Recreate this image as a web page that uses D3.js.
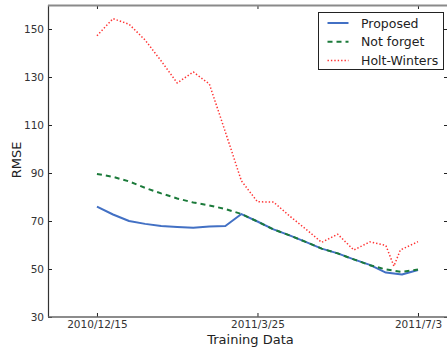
<!DOCTYPE html>
<html>
<head>
<meta charset="utf-8">
<script src="https://cdn.jsdelivr.net/npm/d3@7"></script>
<style>
  body { margin: 0; background: #fff; }
  svg { display: block; }
  svg text { font-family: "DejaVu Sans", sans-serif; }
</style>
</head>
<body>
<svg id="chart" width="447" height="349"></svg>
<script>
// data, day offsets from 2010/12/15
const startDate = '2010/12/15';
const days = [0, 10, 20, 30, 40, 50, 60, 70, 80, 90, 100, 110, 120, 130, 140, 150, 160, 170, 180, 190, 200];
const proposed = [76.0, 72.7, 70.0, 68.8, 67.9, 67.5, 67.2, 67.7, 67.9, 72.9, 69.8, 66.5, 64.0, 61.3, 58.5, 56.5, 54.0, 51.7, 48.5, 47.7, 49.6];
const notForget = [89.6, 88.4, 86.5, 83.8, 81.5, 79.4, 77.7, 76.5, 75.0, 72.9, 69.8, 66.5, 64.0, 61.3, 58.5, 56.5, 54.0, 51.6, 49.8, 48.8, 49.8];
const hwDays = [0, 10, 20, 30, 40, 50, 60, 70, 80, 90, 100, 110, 120, 130, 140, 150, 160, 170, 180, 185, 189, 200];
const holtWinters = [147.2, 154.3, 152.0, 145.4, 136.7, 127.5, 132.1, 127.1, 107.1, 86.7, 78.0, 77.9, 72.1, 66.7, 61.1, 64.5, 57.9, 61.3, 59.8, 51.2, 57.9, 61.4];
const seriesNames = ['Proposed', 'Not forget', 'Holt-Winters'];
const xTickLabels = ['2010/12/15', '2011/3/25', '2011/7/3'];
const yTicks = [30, 50, 70, 90, 110, 130, 150];

const svg = d3.select('#chart');
const margin = { top: 5, right: -1, bottom: 32, left: 48 };
const width = +svg.attr('width');
const height = +svg.attr('height');
const innerWidth = width - margin.left - margin.right;
const innerHeight = height - margin.top - margin.bottom;

const parse = d3.timeParse('%Y/%m/%d');
const t0 = parse(startDate);
const dayAt = n => new Date(t0.getTime() + n * 864e5);

const xScale = d3.scaleTime()
  .domain([dayAt(-30.5), dayAt(218.7)])
  .range([0, innerWidth]);
const yScale = d3.scaleLinear()
  .domain([30, 160])
  .range([innerHeight, 0]);

const g = svg.append('g')
  .attr('transform', `translate(${margin.left},${margin.top})`);

const fmt = d => (d.getFullYear() + '/' + (d.getMonth() + 1) + '/' + d.getDate());
const xTicks = xTickLabels.map(parse);

// axes, ticks pointing inward
const xAxis = d3.axisBottom(xScale).tickValues(xTicks).tickFormat(fmt).tickSize(-4).tickPadding(4);
const yAxis = d3.axisLeft(yScale).tickValues(yTicks).tickSize(-4).tickPadding(4);

const xg = g.append('g').attr('transform', `translate(0,${innerHeight})`).call(xAxis);
const yg = g.append('g').call(yAxis);
const tg = g.append('g').call(d3.axisTop(xScale).tickValues(xTicks).tickSize(-4));
const rg = g.append('g').attr('transform', `translate(${innerWidth},0)`)
  .call(d3.axisRight(yScale).tickValues(yTicks).tickSize(-4));
tg.selectAll('text').remove();
rg.selectAll('text').remove();

g.selectAll('.domain').remove();
g.selectAll('.tick line').attr('stroke', '#222');
[xg, yg].forEach(a => a.attr('font-family', null).attr('font-size', null)
  .selectAll('text').attr('font-size', 10.5).attr('fill', '#333'));

// spines
g.append('line').attr('x1', 0.5).attr('x2', 0.5).attr('y1', 0).attr('y2', innerHeight)
  .attr('stroke', '#333').attr('stroke-width', 1.2);
g.append('line').attr('x1', 0).attr('x2', innerWidth).attr('y1', 0.5).attr('y2', 0.5)
  .attr('stroke', '#8a8a8a').attr('stroke-width', 2);
g.append('line').attr('x1', 0).attr('x2', innerWidth).attr('y1', innerHeight).attr('y2', innerHeight)
  .attr('stroke', '#666').attr('stroke-width', 1.5);

// lines
const line = d3.line()
  .x(d => xScale(dayAt(d[0])))
  .y(d => yScale(d[1]));

const series = [
  { name: seriesNames[0], pts: d3.zip(days, proposed), color: '#4270c4', width: 2, dash: null },
  { name: seriesNames[1], pts: d3.zip(days, notForget), color: '#1b7a3a', width: 2, dash: '5,4' },
  { name: seriesNames[2], pts: d3.zip(hwDays, holtWinters), color: '#ff3333', width: 1.5, dash: '1.4,2' }
];

g.selectAll('.series').data(series).enter().append('path')
  .attr('class', 'series')
  .attr('d', d => line(d.pts))
  .attr('fill', 'none')
  .attr('stroke', d => d.color)
  .attr('stroke-width', d => d.width)
  .attr('stroke-dasharray', d => d.dash)
  .attr('stroke-linejoin', 'round');

// labels
svg.append('text')
  .attr('x', margin.left + xScale(parse('2011/3/25')) - 7)
  .attr('y', 344)
  .attr('text-anchor', 'middle')
  .attr('font-size', 13)
  .attr('fill', '#222')
  .text('Training Data');

svg.append('text')
  .attr('transform', 'translate(21,160) rotate(-90)')
  .attr('text-anchor', 'middle')
  .attr('font-size', 13)
  .attr('fill', '#222')
  .text('RMSE');

// legend
const legend = svg.append('g').attr('transform', 'translate(318.5,12.5)');
legend.append('rect')
  .attr('width', 125).attr('height', 57)
  .attr('fill', '#fff').attr('stroke', '#222').attr('stroke-width', 1);

const item = legend.selectAll('.item').data(series).enter().append('g')
  .attr('class', 'item')
  .attr('transform', (d, i) => `translate(0,${10.5 + i * 18.7})`);
item.append('line')
  .attr('x1', 9).attr('x2', 30)
  .attr('stroke', d => d.color)
  .attr('stroke-width', d => d.width)
  .attr('stroke-dasharray', d => d.dash);
item.append('text')
  .attr('x', 42.5).attr('y', 4.5)
  .attr('font-size', 12.5)
  .attr('fill', '#222')
  .text(d => d.name);
</script>
</body>
</html>
